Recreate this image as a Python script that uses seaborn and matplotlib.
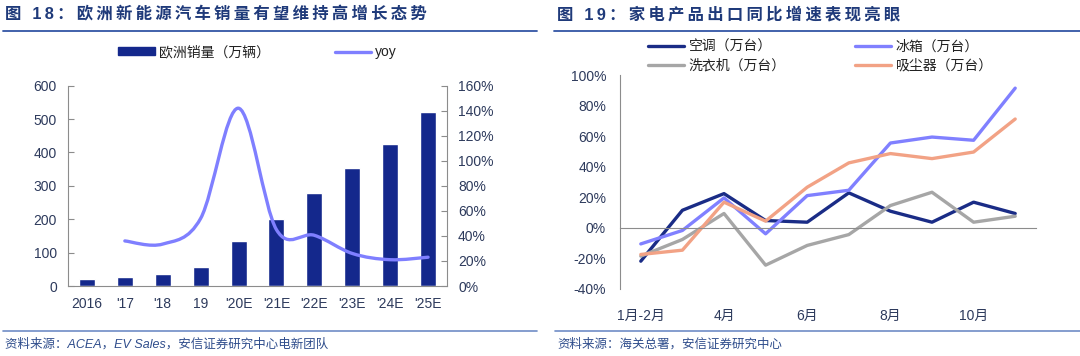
import numpy as np
import pandas as pd
import seaborn as sns
import matplotlib.pyplot as plt
from matplotlib.path import Path
from matplotlib.patches import PathPatch, Patch
from matplotlib.lines import Line2D

# ---- data: figure 18 ----
years = ["2016", "'17", "'18", "19", "'20E", "'21E", "'22E", "'23E", "'24E", "'25E"]
sales = [20, 28, 36, 56, 135, 200, 280, 352, 425, 522]
yoy_years = years[1:]
yoy = [36, 33.5, 54, 142, 45, 40.5, 26, 21, 23]

# ---- data: figure 19 ----
months = ["1月-2月", "3月", "4月", "5月", "6月", "7月", "8月", "9月", "10月", "11月"]
month_ticks = ["1月-2月", "4月", "6月", "8月", "10月"]
ac = [-21.8, 11.5, 22.4, 4.8, 3.7, 22.9, 10.9, 3.7, 16.8, 9.4]
fridge = [-10.5, -1.7, 19.6, -3.9, 21.1, 24.6, 55.5, 59.4, 57.3, 91.4]
washer = [-18.5, -7.6, 9.4, -24.4, -11.5, -4.4, 14.6, 23.3, 3.7, 7.6]
vacuum = [-17.4, -14.6, 16.8, 4.4, 26.6, 42.5, 48.6, 45.3, 49.6, 71.2]
series_names = ["空调（万台）", "冰箱（万台）", "洗衣机（万台）", "吸尘器（万台）"]

sns.set_style("white")
plt.rcParams['font.family'] = ['Liberation Sans', 'Noto Sans CJK SC', 'DejaVu Sans']

BAR = '#14288C'
YOY = '#7F7FFF'
TXT = '#2d3a5c'
SPINE = '#8c8c8c'
palette = {series_names[0]: '#1A2C86', series_names[1]: '#8080FF',
           series_names[2]: '#A6A6A6', series_names[3]: '#F2A285'}

W, H = 1080, 356
fig = plt.figure(figsize=(W / 100, H / 100), dpi=100)


def fx(px):
    return px / W


def fy(py):
    return 1 - py / H


# ---------------- left chart ----------------
ax1 = fig.add_axes([fx(68), fy(286), fx(447 - 68), (286 - 85.7) / H])
sns.barplot(x=years, y=sales, color=BAR, saturation=1, width=0.42, ax=ax1)
ax1.set_xlim(-0.5, len(years) - 0.5)
ax1.set_ylim(0, 600)
ax1.set_yticks(range(0, 601, 100))
ax1.set_xticks(np.arange(-0.5, len(years), 1), minor=True)
ax1.tick_params(axis='x', which='major', length=0, pad=8, labelsize=10, labelcolor=TXT)
ax1.tick_params(axis='x', which='minor', direction='in', length=4, color=SPINE, width=1)
ax1.tick_params(axis='y', direction='in', length=4, color=SPINE, pad=8, labelsize=10, labelcolor=TXT)
for s in ['top', 'right']:
    ax1.spines[s].set_visible(False)
for s in ['left', 'bottom']:
    ax1.spines[s].set_color(SPINE)

ax2 = ax1.twinx()
ax2.set_ylim(0, 160)
ax2.set_yticks(range(0, 161, 20))
ax2.set_yticklabels([f"{v}%" for v in range(0, 161, 20)])
ax2.tick_params(axis='y', direction='in', length=4, color=SPINE, pad=8, labelsize=10, labelcolor=TXT)
for s in ['top', 'left', 'bottom']:
    ax2.spines[s].set_visible(False)
ax2.spines['right'].set_color(SPINE)

# smooth yoy curve (Bezier through the data points)
xs = np.array([years.index(y) for y in yoy_years], dtype=float)
pts = np.column_stack([xs, yoy])
n = len(pts)
verts = [pts[0]]
codes = [Path.MOVETO]
for i in range(n - 1):
    p0, p1, p2, p3 = pts[max(i - 1, 0)], pts[i], pts[i + 1], pts[min(i + 2, n - 1)]
    verts += [p1 + (p2 - p0) / 6, p2 - (p3 - p1) / 6, p2]
    codes += [Path.CURVE4] * 3
ax2.add_patch(PathPatch(Path(verts, codes), fill=False, edgecolor=YOY, lw=2.4,
                        capstyle='round'))

ax1.legend([Patch(color=BAR), Line2D([], [], color=YOY, lw=2.4)],
           ["欧洲销量（万辆）", "yoy"], loc='center left', bbox_to_anchor=(0.1, 1.168),
           ncol=2, frameon=False, fontsize=10, handlelength=2.6, handleheight=0.55,
           columnspacing=4.7, handletextpad=0.3, labelcolor='#222222')

# ---------------- right chart ----------------
ax3 = fig.add_axes([fx(620), fy(289), fx(1036 - 620), (289 - 75) / H])
df = pd.DataFrame({
    'idx': list(range(len(months))) * 4,
    'val': ac + fridge + washer + vacuum,
    'series': [s for s in series_names for _ in months],
})
sns.lineplot(data=df, x='idx', y='val', hue='series', palette=palette,
             linewidth=2.4, legend=False, ax=ax3)
ax3.set_xlim(-0.5, len(months) - 0.5)
ax3.set_ylim(-40, 100)
ax3.set_yticks(range(-40, 101, 20))
ax3.set_yticklabels([f"{v}%" for v in range(-40, 101, 20)])
ax3.set_xlabel('')
ax3.set_ylabel('')
ax3.spines['bottom'].set_position(('data', 0))
ax3.set_xticks(np.arange(-0.5, len(months), 1))
ax3.set_xticklabels([])
ax3.tick_params(axis='x', direction='in', length=4, color=SPINE)
ax3.tick_params(axis='y', direction='in', length=4, color=SPINE, pad=10, labelsize=10, labelcolor=TXT)
for s in ['top', 'right']:
    ax3.spines[s].set_visible(False)
for s in ['left', 'bottom']:
    ax3.spines[s].set_color(SPINE)

sec = ax3.secondary_xaxis(0)
sec.set_xticks([months.index(m) for m in month_ticks])
sec.set_xticklabels(month_ticks)
sec.tick_params(length=0, pad=14, labelsize=10, labelcolor=TXT)
sec.spines['bottom'].set_visible(False)

# legend laid out row-wise: 空调 / 冰箱 on top, 洗衣机 / 吸尘器 below
order = [series_names[0], series_names[2], series_names[1], series_names[3]]
handles = [Line2D([], [], color=palette[s], lw=2.4) for s in order]
ax3.legend(handles, order, loc='center left', bbox_to_anchor=(0.038, 1.086),
           ncol=2, frameon=False, fontsize=10, handlelength=2.6, handletextpad=0.3,
           columnspacing=5.0, labelspacing=0.35, labelcolor='#222222')

# ---------------- titles, rules, sources ----------------
TITLE = '#1F3A7A'
sp = '\u2009'
fig.text(fx(5), fy(14), sp.join("图 18：欧洲新能源汽车销量有望维持高增长态势"), fontsize=11.8,
         fontweight='bold', color=TITLE, va='center')
fig.text(fx(557), fy(14), sp.join("图 19：家电产品出口同比增速表现亮眼"), fontsize=11.8,
         fontweight='bold', color=TITLE, va='center')
fig.add_artist(Line2D([fx(3), fx(537)], [fy(31), fy(31)], color='#3355A5', lw=1.3))
fig.add_artist(Line2D([fx(554), fx(1080)], [fy(31), fy(31)], color='#3355A5', lw=1.3))
fig.add_artist(Line2D([fx(3), fx(537)], [fy(331), fy(331)], color='#6F8CC6', lw=1.2))
fig.add_artist(Line2D([fx(555), fx(1080)], [fy(331), fy(331)], color='#6F8CC6', lw=1.2))
fig.text(fx(5), fy(344), "资料来源：ACEA，EV Sales，安信证券研究中心电新团队", fontsize=9,
         style='italic', color='#2F4D8C', va='center')
fig.text(fx(557), fy(344), "资料来源：海关总署，安信证券研究中心", fontsize=9,
         style='italic', color='#2F4D8C', va='center')

fig.savefig("out.png", dpi=100)
